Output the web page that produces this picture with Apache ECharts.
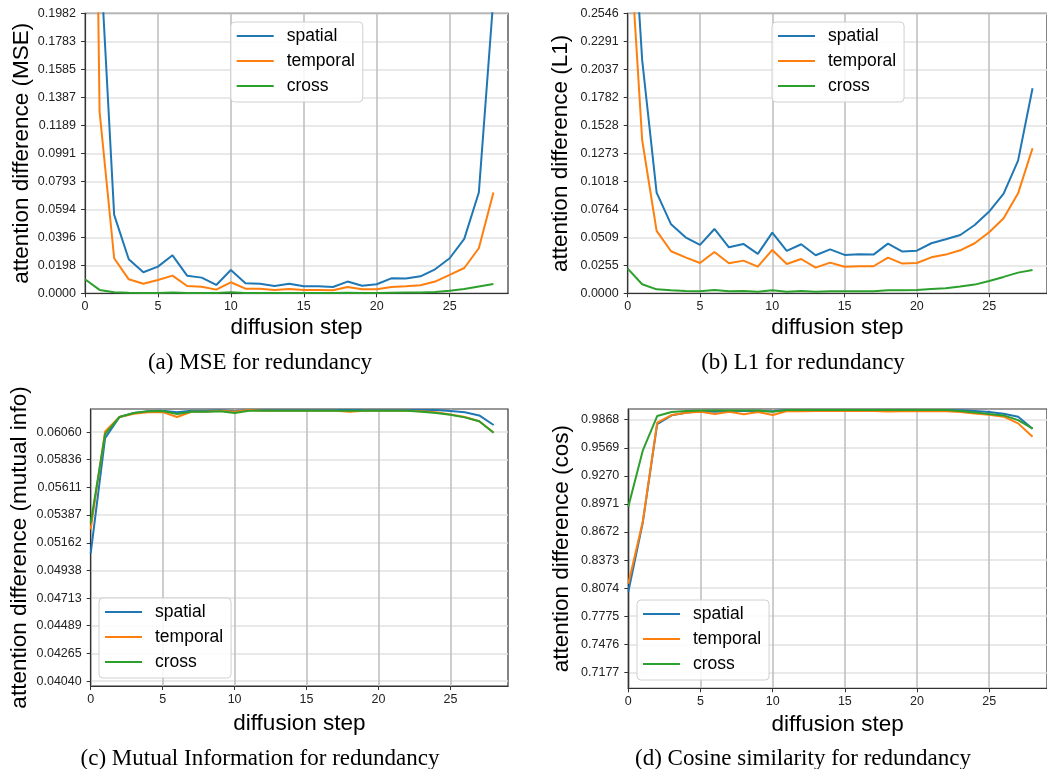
<!DOCTYPE html>
<html><head><meta charset="utf-8">
<script src="https://cdn.jsdelivr.net/npm/echarts@6/dist/echarts.min.js"></script>
<style>html,body{margin:0;padding:0;background:#fff}#c{width:1047px;height:769px}</style>
</head><body><div id="c"></div>
<script>
// ---- data ----
const steps = [0,1,2,3,4,5,6,7,8,9,10,11,12,13,14,15,16,17,18,19,20,21,22,23,24,25,26,27,28];
const seriesNames = ['spatial','temporal','cross'];
const xTicks = [0,5,10,15,20,25];

const mseTicks = ['0.0000','0.0198','0.0396','0.0594','0.0793','0.0991','0.1189','0.1387','0.1585','0.1783','0.1982'];
const l1Ticks = ['0.0000','0.0255','0.0509','0.0764','0.1018','0.1273','0.1528','0.1782','0.2037','0.2291','0.2546'];
const miTicks = ['0.04040','0.04265','0.04489','0.04713','0.04938','0.05162','0.05387','0.05611','0.05836','0.06060'];
const cosTicks = ['0.7177','0.7476','0.7775','0.8074','0.8373','0.8672','0.8971','0.9270','0.9569','0.9868'];

const mseSpatial = [0.60,0.248,0.0555,0.0241,0.0149,0.0189,0.0269,0.0125,0.0111,0.0059,0.0165,0.0071,0.0068,0.0052,0.0068,0.0050,0.0050,0.0045,0.0083,0.0054,0.0064,0.0106,0.0104,0.0120,0.0170,0.0248,0.0385,0.0713,0.209];
const mseTemporal = [0.90,0.1286,0.0248,0.0099,0.0068,0.0094,0.0125,0.0052,0.0047,0.0026,0.0078,0.0033,0.0033,0.0024,0.0031,0.0024,0.0024,0.0021,0.0045,0.0028,0.0028,0.0045,0.0050,0.0057,0.0083,0.0130,0.0179,0.0319,0.0713];
const mseCross = [0.0099,0.0024,0.0007,0.0004,0.0003,0.0003,0.0006,0.0003,0.0003,0.0002,0.0008,0.0003,0.0003,0.0002,0.0003,0.0002,0.0002,0.0002,0.0004,0.0003,0.0003,0.0004,0.0005,0.0006,0.0010,0.0018,0.0030,0.0048,0.0066];

const l1Spatial = [0.424,0.2122,0.0915,0.0627,0.0509,0.0440,0.0585,0.0418,0.0449,0.0358,0.0552,0.0385,0.0446,0.0346,0.0400,0.0349,0.0355,0.0352,0.0452,0.0379,0.0388,0.0455,0.0491,0.0530,0.0621,0.0743,0.0906,0.1206,0.1864];
const l1Temporal = [0.353,0.1394,0.0567,0.0382,0.0327,0.0276,0.0376,0.0273,0.0297,0.0242,0.0394,0.0267,0.0312,0.0233,0.0279,0.0242,0.0246,0.0246,0.0324,0.0270,0.0276,0.0327,0.0352,0.0391,0.0455,0.0555,0.0682,0.0909,0.1319];
const l1Cross = [0.0224,0.0082,0.0036,0.0027,0.0021,0.0018,0.0030,0.0018,0.0021,0.0015,0.0027,0.0015,0.0021,0.0015,0.0019,0.0018,0.0018,0.0019,0.0027,0.0027,0.0030,0.0039,0.0045,0.0061,0.0079,0.0112,0.0149,0.0188,0.0212];

const miSpatial = [0.05076,0.06011,0.06182,0.06214,0.06228,0.06233,0.06220,0.06233,0.06233,0.06236,0.06228,0.06238,0.06238,0.06238,0.06238,0.06238,0.06238,0.06238,0.06238,0.06238,0.06238,0.06238,0.06238,0.06238,0.06238,0.06230,0.06220,0.06195,0.06117];
const miTemporal = [0.05270,0.06065,0.06182,0.06209,0.06220,0.06222,0.06182,0.06225,0.06225,0.06233,0.06225,0.06238,0.06233,0.06233,0.06233,0.06233,0.06233,0.06233,0.06225,0.06233,0.06233,0.06233,0.06233,0.06228,0.06220,0.06203,0.06182,0.06147,0.06057];
const miCross = [0.05322,0.06044,0.06182,0.06214,0.06228,0.06230,0.06206,0.06225,0.06225,0.06228,0.06214,0.06233,0.06233,0.06233,0.06233,0.06233,0.06233,0.06233,0.06233,0.06233,0.06233,0.06233,0.06233,0.06225,0.06214,0.06200,0.06179,0.06147,0.06055];

const cosSpatial = [0.8036,0.8770,0.9822,0.9914,0.9943,0.9960,0.9953,0.9962,0.9962,0.9962,0.9958,0.9971,0.9971,0.9971,0.9971,0.9971,0.9971,0.9971,0.9971,0.9971,0.9971,0.9971,0.9971,0.9968,0.9960,0.9950,0.9932,0.9900,0.9772];
const cosTemporal = [0.8120,0.8780,0.9836,0.9918,0.9943,0.9953,0.9928,0.9953,0.9925,0.9950,0.9918,0.9960,0.9957,0.9960,0.9960,0.9960,0.9960,0.9960,0.9955,0.9958,0.9958,0.9958,0.9958,0.9950,0.9935,0.9921,0.9900,0.9829,0.9687];
const cosCross = [0.8941,0.9538,0.9907,0.9950,0.9960,0.9967,0.9967,0.9967,0.9967,0.9967,0.9953,0.9971,0.9971,0.9971,0.9971,0.9971,0.9971,0.9971,0.9971,0.9971,0.9971,0.9971,0.9971,0.9960,0.9946,0.9928,0.9914,0.9864,0.9772];

const panels = [
  {ticks: mseTicks, data: [mseSpatial, mseTemporal, mseCross], ylabel: 'attention difference (MSE)', caption: '(a) MSE for redundancy'},
  {ticks: l1Ticks, data: [l1Spatial, l1Temporal, l1Cross], ylabel: 'attention difference (L1)', caption: '(b) L1 for redundancy'},
  {ticks: miTicks, data: [miSpatial, miTemporal, miCross], ylabel: 'attention difference (mutual info)', caption: '(c) Mutual Information for redundancy'},
  {ticks: cosTicks, data: [cosSpatial, cosTemporal, cosCross], ylabel: 'attention difference (cos)', caption: '(d) Cosine similarity for redundancy'}
];

// ---- layout / style ----
const colors = ['#1f77b4', '#ff7f0e', '#2ca02c'];
const SANS = '"Liberation Sans", Arial, sans-serif';
const SERIF = '"Liberation Serif", "Times New Roman", serif';
const layout = [
  {grid: {left: 85, top: 13.3, width: 423, height: 280}, yRange: [0, 0.1982], yGap: 52, xGap: 23, legend: {left: 230.7, top: 22}, cap: [260, 363]},
  {grid: {left: 627.7, top: 13.3, width: 420.5, height: 280}, yRange: [0, 0.2546], yGap: 55, xGap: 23, legend: {left: 772, top: 22}, cap: [803, 363]},
  {grid: {left: 90.7, top: 409, width: 417.3, height: 277}, yRange: [0.0400, 0.06247], yGap: 59, xGap: 26, legend: {left: 99, top: 598}, cap: [260, 759]},
  {grid: {left: 628.3, top: 409, width: 419.6, height: 279.3}, yRange: [0.7007, 0.9982], yGap: 55, xGap: 25, legend: {left: 637, top: 600}, cap: [803, 759]}
];

const grids = [], xAxes = [], yAxes = [], series = [], legends = [], graphics = [];
panels.forEach((p, i) => {
  const L = layout[i];
  const dec = p.ticks[0].split('.')[1].length;
  grids.push(Object.assign({show: true, borderColor: '#333', borderWidth: 1.2, backgroundColor: 'transparent'}, L.grid));
  xAxes.push({
    type: 'value', gridIndex: i, min: 0, max: 29, interval: 5,
    name: 'diffusion step', nameLocation: 'middle', nameGap: L.xGap,
    nameTextStyle: {fontFamily: SANS, fontSize: 22.5, color: '#000'},
    axisLine: {show: true, onZero: false, lineStyle: {color: '#333', width: 1.2}},
    axisTick: {show: true, length: 4, lineStyle: {color: '#333'}, customValues: xTicks},
    axisLabel: {show: true, margin: 7, fontFamily: SANS, fontSize: 12.5, color: '#222', customValues: xTicks},
    splitLine: {show: true, lineStyle: {color: '#bdbdbd', width: 1.5}}
  });
  const yVals = p.ticks.map(Number);
  yAxes.push({
    type: 'value', gridIndex: i, min: L.yRange[0], max: L.yRange[1],
    name: p.ylabel, nameLocation: 'middle', nameGap: L.yGap,
    nameTextStyle: {fontFamily: SANS, fontSize: 22.5, color: '#000'},
    axisLine: {show: true, onZero: false, lineStyle: {color: '#333', width: 1.2}},
    axisTick: {show: true, length: 4, lineStyle: {color: '#333'}, customValues: yVals},
    axisLabel: {show: true, margin: 9, fontFamily: SANS, fontSize: 12.5, color: '#222', customValues: yVals,
      formatter: v => Number(v).toFixed(dec)},
    splitLine: {show: true, customValues: yVals, lineStyle: {color: '#e2e2e2', width: 1.5}}
  });
  p.data.forEach((arr, k) => {
    series.push({
      type: 'line', name: seriesNames[k], xAxisIndex: i, yAxisIndex: i,
      data: steps.map((s, j) => [s, arr[j]]),
      symbol: 'none', color: colors[k], lineStyle: {width: 2, color: colors[k]},
      z: 3 + k, clip: true
    });
  });
  legends.push({
    data: seriesNames, orient: 'vertical', left: L.legend.left, top: L.legend.top,
    icon: 'rect', itemWidth: 37, itemHeight: 2, itemGap: 7, z: 10,
    padding: [5, 8, 7, 6], backgroundColor: 'rgba(255,255,255,0.85)',
    borderColor: '#d0d0d0', borderWidth: 1, borderRadius: 4,
    selectedMode: false,
    textStyle: {fontFamily: SANS, fontSize: 17.5, color: '#000', lineHeight: 18, padding: [0, 0, 0, 8]}
  });
  graphics.push({
    type: 'text', x: L.cap[0], y: L.cap[1], silent: true,
    style: {text: p.caption, fontFamily: SERIF, fontSize: 23, fill: '#000', align: 'center', verticalAlign: 'middle'}
  });
});

const chart = echarts.init(document.getElementById('c'), null, {renderer: 'canvas'});
chart.setOption({
  animation: false,
  backgroundColor: '#fff',
  textStyle: {fontFamily: SANS},
  grid: grids, xAxis: xAxes, yAxis: yAxes, series: series, legend: legends, graphic: graphics
});
</script></body></html>
